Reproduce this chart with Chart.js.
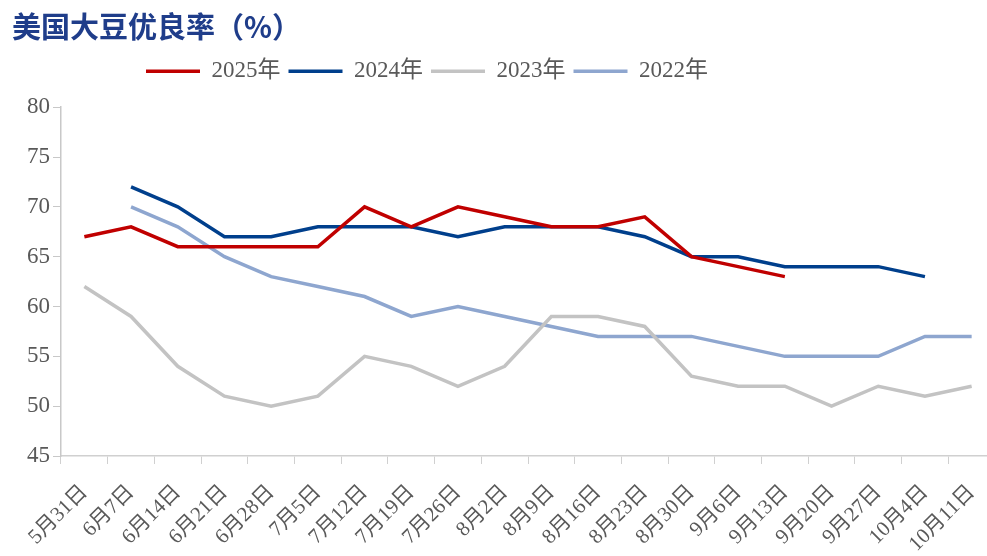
<!DOCTYPE html>
<html>
<head>
<meta charset="utf-8">
<script src="https://cdn.jsdelivr.net/npm/chart.js@4.4.1/dist/chart.umd.min.js"></script>
<style>
  html, body { margin: 0; padding: 0; background: #fff; overflow: hidden; }
  #wrap { position: relative; width: 987px; height: 556px; overflow: hidden; }
</style>
</head>
<body>
<!-- the plot runs slightly past the right edge in the original, so the canvas is a bit wider than the page -->
<div id="wrap"><canvas id="soyChart" width="995" height="556"></canvas></div>
<script>
// 美国大豆优良率
const categories = ['5月31日', '6月7日', '6月14日', '6月21日', '6月28日', '7月5日', '7月12日', '7月19日', '7月26日', '8月2日',
    '8月9日', '8月16日', '8月23日', '8月30日', '9月6日', '9月13日', '9月20日', '9月27日', '10月4日', '10月11日'];

const y2025 = [67, 68, 66, 66, 66, 66, 70, 68, 70, 69, 68, 68, 69, 65, 64, 63, null, null, null, null];
const y2024 = [null, 72, 70, 67, 67, 68, 68, 68, 67, 68, 68, 68, 67, 65, 65, 64, 64, 64, 63, null];
const y2023 = [62, 59, 54, 51, 50, 51, 55, 54, 52, 54, 59, 59, 58, 53, 52, 52, 50, 52, 51, 52];
const y2022 = [null, 70, 68, 65, 63, 62, 61, 59, 60, 59, 58, 57, 57, 57, 56, 55, 55, 55, 57, 57];

const serif = "'Liberation Serif', 'Times New Roman', 'Noto Sans CJK SC', serif";

function line(label, data, color) {
    return {
        label: label,
        data: data,
        borderColor: color,
        backgroundColor: color,
        borderWidth: 3.5,
        pointRadius: 0,
        pointHoverRadius: 0,
        tension: 0
    };
}

// legend sits left of centre in the original
const legendShift = {
    id: 'legendShift',
    afterLayout(chart) {
        chart.legend.left = 138;
    }
};

new Chart(document.getElementById('soyChart'), {
    type: 'line',
    data: {
        labels: categories,
        datasets: [
            line('2025年', y2025, '#c00000'),
            line('2024年', y2024, '#003f8c'),
            line('2023年', y2023, '#c3c3c3'),
            line('2022年', y2022, '#8ea6cf')
        ]
    },
    plugins: [legendShift],
    options: {
        responsive: false,
        animation: false,
        layout: { padding: { left: 12, right: 0, top: 8, bottom: 0 } },
        plugins: {
            title: {
                display: true,
                text: '美国大豆优良率（%）',
                align: 'start',
                color: '#1f3d8a',
                font: { family: "'Noto Sans CJK SC', serif", size: 29, weight: 'bold' },
                padding: { top: 2, bottom: 7 }
            },
            // empty spacer between legend and plot
            subtitle: {
                display: true,
                text: '',
                weight: 500,
                font: { size: 12 },
                padding: 0
            },
            legend: {
                display: true,
                align: 'start',
                labels: {
                    usePointStyle: true,
                    pointStyle: 'line',
                    pointStyleWidth: 54,
                    boxWidth: 54,
                    boxHeight: 12,
                    color: '#595959',
                    font: { family: serif, size: 23 },
                    padding: 8
                }
            },
            tooltip: { enabled: false }
        },
        scales: {
            x: {
                offset: true,
                afterFit(scale) {
                    scale.height = 100;
                    scale.paddingLeft = 0;
                    scale.paddingRight = 0;
                },
                grid: {
                    display: true,
                    offset: true,
                    drawOnChartArea: false,
                    tickLength: 8,
                    color: '#d0d0d0'
                },
                border: { color: '#d0d0d0', width: 1.5 },
                ticks: {
                    color: '#595959',
                    font: { family: serif, size: 21 },
                    maxRotation: 45,
                    minRotation: 45,
                    autoSkip: false,
                    padding: 16
                }
            },
            y: {
                min: 45,
                max: 80,
                afterFit(scale) { scale.width = 49; },
                grid: {
                    display: true,
                    drawOnChartArea: false,
                    tickLength: 8,
                    color: '#c8c8c8'
                },
                border: { color: '#c8c8c8', width: 1.5 },
                ticks: {
                    stepSize: 5,
                    color: '#595959',
                    font: { family: serif, size: 23 },
                    padding: 3
                }
            }
        }
    }
});
</script>
</body>
</html>
